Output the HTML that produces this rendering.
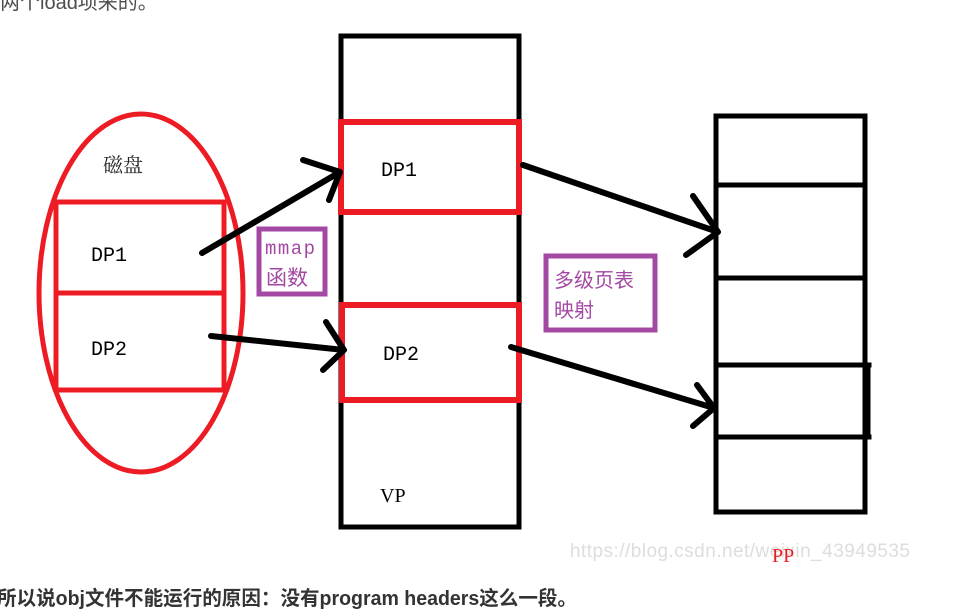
<!DOCTYPE html>
<html><head><meta charset="utf-8"><style>
body{margin:0;background:#fff;width:957px;height:613px;overflow:hidden;position:relative}
.t{position:absolute;white-space:nowrap}
</style></head><body>
<div class="t" style="left:0;top:-14px;font:20px 'Liberation Sans','Noto Sans CJK SC',sans-serif;color:#4d4d4d">两个load项来的。</div>
<svg width="957" height="613" style="position:absolute;left:0;top:0" xmlns="http://www.w3.org/2000/svg">
<g fill="none" stroke-linecap="square">
<ellipse cx="141" cy="293" rx="102" ry="179" stroke="#ed1c24" stroke-width="5"/>
<rect x="56" y="202" width="168" height="188" stroke="#ed1c24" stroke-width="5"/>
<line x1="56" y1="293" x2="224" y2="293" stroke="#ed1c24" stroke-width="5"/>
<rect x="341" y="36" width="178" height="491" stroke="#000" stroke-width="5"/>
<rect x="341" y="122" width="178" height="90" stroke="#ed1c24" stroke-width="6"/>
<rect x="342" y="305" width="177" height="95" stroke="#ed1c24" stroke-width="6"/>
<rect x="716" y="116" width="149" height="396" stroke="#000" stroke-width="5"/>
<line x1="716" y1="185" x2="865" y2="185" stroke="#000" stroke-width="5"/>
<line x1="716" y1="278" x2="865" y2="278" stroke="#000" stroke-width="5"/>
<line x1="716" y1="365" x2="869" y2="365" stroke="#000" stroke-width="5"/>
<line x1="716" y1="437" x2="869" y2="437" stroke="#000" stroke-width="5"/>
<line x1="868" y1="365" x2="868" y2="437" stroke="#000" stroke-width="5"/>
<g stroke="#000" stroke-width="6" stroke-linecap="round" stroke-linejoin="round">
<path d="M202 253 L340 172 M303 160 L340 172 L329 200"/>
<path d="M211 336 L344 350 M326 322 L344 350 L323 370"/>
<path d="M523 165 L718 232 M693 196 L718 232 L686 255"/>
<path d="M511 347 L714 408 M697 385 L714 408 L693 426"/>
</g>
<rect x="259" y="229" width="66" height="65" stroke="#a349a4" stroke-width="5"/>
<rect x="546" y="256" width="109" height="74" stroke="#a349a4" stroke-width="5"/>
</g>
<g font-family="'Liberation Serif','Noto Serif CJK SC',serif" fill="#000">
<text x="103" y="172" font-size="20" fill="#222">磁盘</text>
<text x="91" y="261" font-size="20" font-family="'Liberation Mono',monospace">DP1</text>
<text x="91" y="355" font-size="20" font-family="'Liberation Mono',monospace">DP2</text>
<text x="381" y="176" font-size="20" font-family="'Liberation Mono',monospace">DP1</text>
<text x="383" y="360" font-size="20" font-family="'Liberation Mono',monospace">DP2</text>
<text x="380" y="502" font-size="20">VP</text>
<text x="265" y="254" font-size="19" fill="#a349a4" font-family="'Liberation Mono',monospace" textLength="50">mmap</text>
<text x="266" y="285" font-size="21" fill="#a349a4" font-family="'Noto Sans CJK SC',sans-serif">函数</text>
<text x="554" y="287" font-size="20" fill="#a349a4" font-family="'Noto Sans CJK SC',sans-serif">多级页表</text>
<text x="554" y="317" font-size="20" fill="#a349a4" font-family="'Noto Sans CJK SC',sans-serif">映射</text>
<text x="570" y="557" font-size="19" fill="#ddd" font-family="'Liberation Sans',sans-serif" textLength="340">https://blog.csdn.net/weixin_43949535</text>
<text x="772" y="562" font-size="20" fill="#ed1c24">PP</text>
</g>
<text x="-3" y="605" font-size="20" font-weight="bold" fill="#333" font-family="'Liberation Sans','Noto Sans CJK SC',sans-serif" textLength="580" lengthAdjust="spacingAndGlyphs">所以说obj文件不能运行的原因：没有program headers这么一段。</text>
</svg>
</body></html>
